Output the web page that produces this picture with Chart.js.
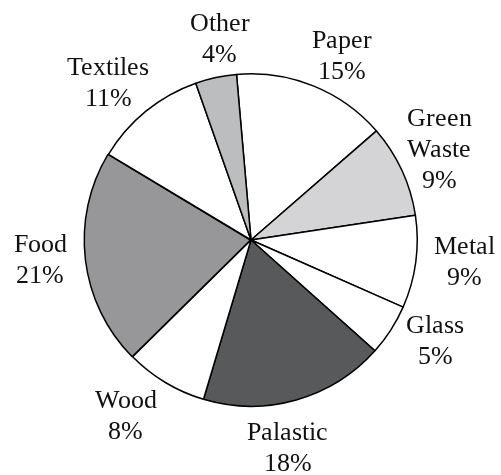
<!DOCTYPE html>
<html>
<head>
<meta charset="utf-8">
<script src="https://cdn.jsdelivr.net/npm/chart.js@4/dist/chart.umd.min.js"></script>
<style>
	@font-face {
		font-family: 'LabelSerif';
		src: local('Liberation Serif'), local('LiberationSerif'), local('LiberationSerif-Regular'), local('DejaVu Serif'), local('DejaVuSerif');
	}
	html, body { margin: 0; padding: 0; background: #fff; }
	canvas { display: block; }
	.warm { font-family: 'LabelSerif'; position: absolute; left: -999px; top: 0; }
</style>
</head>
<body>
<span class="warm">Food 21%</span>
<canvas id="waste_pie" width="501" height="475"></canvas>
<script>
var categories = ["Paper", "Green Waste", "Metal", "Glass", "Palastic", "Wood", "Food", "Textiles", "Other"];
var shares = [15, 9, 9, 5, 18, 8, 21, 11, 4];
var sliceColors = ["#ffffff", "#d4d4d6", "#ffffff", "#ffffff", "#58595b", "#ffffff", "#97979a", "#ffffff", "#bcbdbf"];

// label lines (name may wrap) and small shifts from the default spot
var labelLines = [["Paper"], ["Green", "Waste"], ["Metal"], ["Glass"], ["Palastic"], ["Wood"], ["Food"], ["Textiles"], ["Other"]];
var labelShift = [[13, 8], [-1, -4], [7, -7], [9, -13], [-20, 7], [-18, -4], [-4, -6], [-11, 3], [13, 2]];

var labelFont = "26px LabelSerif, 'Liberation Serif', 'DejaVu Serif', serif";

var pieLabels = {
	id: 'pieLabels',
	afterDatasetsDraw: function(chart) {
		var ctx = chart.ctx;
		var meta = chart.getDatasetMeta(0);
		ctx.save();
		ctx.fillStyle = "#111";
		ctx.font = labelFont;
		ctx.textAlign = "center";
		ctx.textBaseline = "alphabetic";
		meta.data.forEach(function(arc, i) {
			var p = arc.getProps(['x', 'y', 'startAngle', 'endAngle', 'outerRadius'], true);
			var mid = (p.startAngle + p.endAngle) / 2;
			var r = p.outerRadius + 42;
			var cx = p.x + Math.cos(mid) * r + labelShift[i][0];
			var cy = p.y + Math.sin(mid) * r + labelShift[i][1];
			var lines = labelLines[i].concat([shares[i] + "%"]);
			var base = cy - (31 * (lines.length - 1) - 17) / 2;
			for (var j = 0; j < lines.length; j++) {
				ctx.fillText(lines[j], cx, base + j * 31);
			}
		});
		ctx.restore();
	}
};

function drawPie() {
	var ctx = document.getElementById("waste_pie");
	new Chart(ctx, {
		type: 'pie',
		data: {
			labels: categories,
			datasets: [
				{
					data: shares,
					backgroundColor: sliceColors,
					borderColor: "#000",
					borderWidth: 1.5,
					offset: [0, 0, 0, 0, 0, 0, 2, 0, 0]
				}
			]
		},
		options: {
			responsive: false,
			animation: false,
			rotation: -5,
			layout: {
				padding: { left: 83, right: 82, top: 72, bottom: 67 }
			},
			plugins: {
				legend: { display: false },
				tooltip: { enabled: false }
			}
		},
		plugins: [pieLabels]
	});
}

document.fonts.load(labelFont).then(drawPie, drawPie);
</script>
</body>
</html>
